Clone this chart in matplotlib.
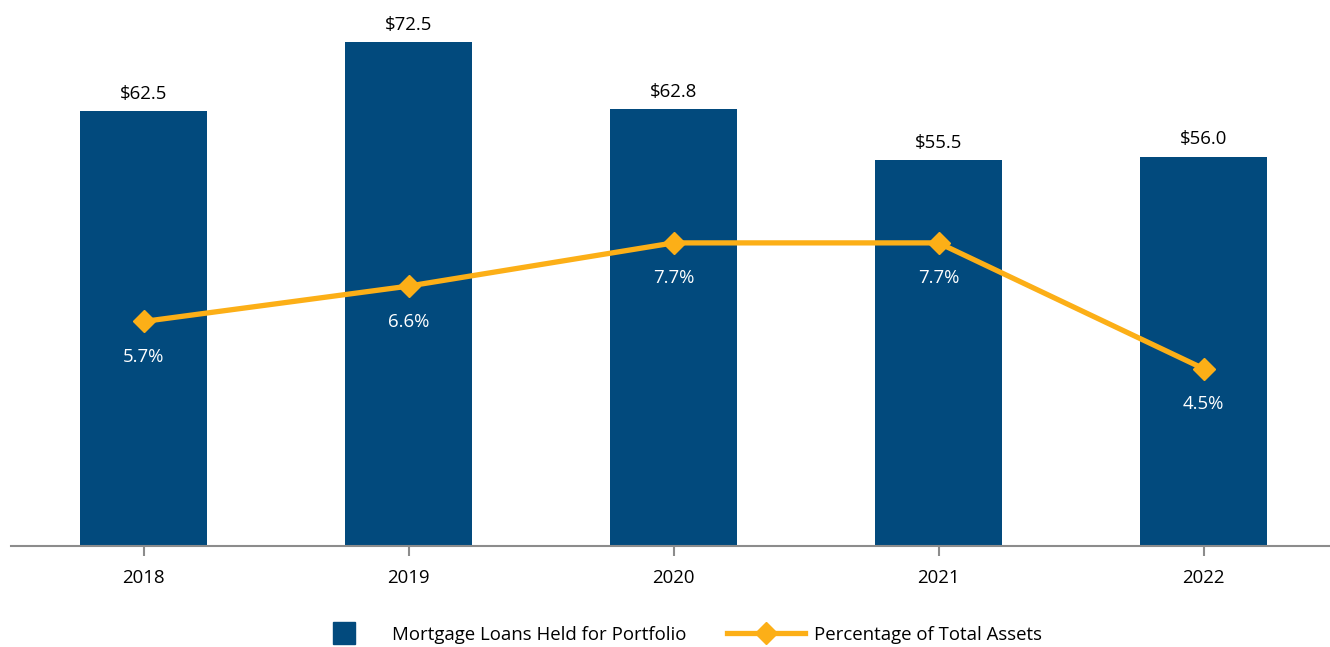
import matplotlib.pyplot as plt
from matplotlib.lines import Line2D

years = ["2018", "2019", "2020", "2021", "2022"]
loans = [62.5, 72.5, 62.8, 55.5, 56.0]
pct = [5.7, 6.6, 7.7, 7.7, 4.5]

blue = "#024A7D"
gold = "#FCAF17"
grey = "#8C8C8C"
fs = 13.4

plt.rcParams['font.family'] = ['Open Sans', 'DejaVu Sans']

fig = plt.figure(figsize=(13.3, 6.47), dpi=100)
W, H = 1330, 647
# axes spans baseline y=545.5 up to y=10, x from 11 to 1336
ax = fig.add_axes([11 / W, (H - 545.5) / H, 1325 / W, 535.5 / H])
ax2 = ax.twinx()

x = list(range(len(years)))
ax.bar(x, loans, width=0.483, color=blue, zorder=2)
ax.set_xlim(-0.5, 4.5)
ax.set_ylim(0, 535.5 / 6.944)
ax2.set_ylim(0, 535.5 / 39.3)

for i, v in enumerate(loans):
    ax.annotate("${:.1f}".format(v), (i, v), xytext=(0, 6), textcoords="offset points",
                ha="center", va="bottom", fontsize=fs, color="black")

ax2.plot(x, pct, color=gold, lw=3.8, marker="D", markersize=11, zorder=3)
for i, v in enumerate(pct):
    ax2.annotate("{:.1f}%".format(v), (i, v), xytext=(0, -19), textcoords="offset points",
                 ha="center", va="top", fontsize=fs, color="white")

for a in (ax, ax2):
    for s in ["top", "right", "left"]:
        a.spines[s].set_visible(False)
    a.set_yticks([])
ax.spines["bottom"].set_color(grey)
ax.spines["bottom"].set_linewidth(1.5)
ax2.spines["bottom"].set_visible(False)
ax.set_xticks(x)
ax.set_xticklabels(years, fontsize=fs)
ax.tick_params(axis="x", length=7.2, width=1.5, color=grey, pad=10)

# legend: two entries placed separately
ly = 1 - 635 / H
sq = Line2D([], [], ls="", marker="s", markersize=16, color=blue)
ln = Line2D([], [], color=gold, lw=3.8, marker="D", markersize=11)
fig.legend([sq], ["Mortgage Loans Held for Portfolio"], loc="center left",
           bbox_to_anchor=(305 / W, ly), frameon=False, fontsize=fs,
           handlelength=4.2, handletextpad=0.45, borderpad=0, borderaxespad=0)
fig.legend([ln], ["Percentage of Total Assets"], loc="center left",
           bbox_to_anchor=(727 / W, ly), frameon=False, fontsize=fs,
           handlelength=4.2, handletextpad=0.5, borderpad=0, borderaxespad=0)

fig.savefig("out.png", dpi=100)
